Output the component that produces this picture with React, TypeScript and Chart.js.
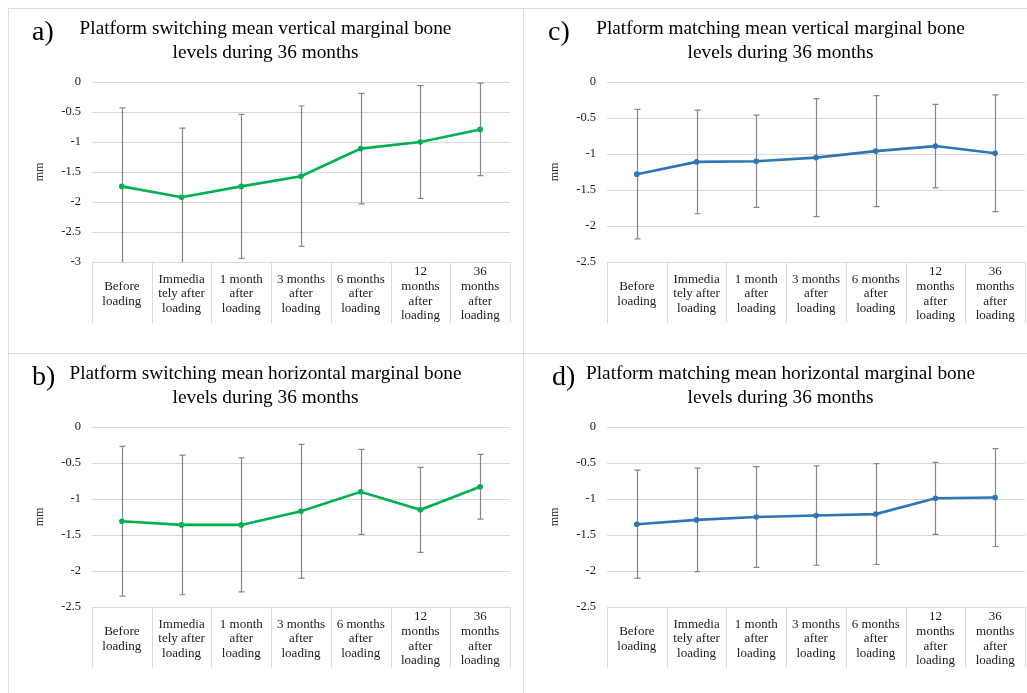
import React, { useEffect, useRef } from "react";
import { Chart, registerables } from "chart.js";

Chart.register(...registerables);

const categories: string[][] = [
  ["Before", "loading"],
  ["Immedia", "tely after", "loading"],
  ["1 month", "after", "loading"],
  ["3 months", "after", "loading"],
  ["6 months", "after", "loading"],
  ["12", "months", "after", "loading"],
  ["36", "months", "after", "loading"],
];

// a) Platform switching, vertical
const aMean = [-1.74, -1.92, -1.74, -1.57, -1.11, -1.0, -0.79];
const aSD = [1.31, 1.15, 1.2, 1.17, 0.92, 0.94, 0.77];
// c) Platform matching, vertical
const cMean = [-1.28, -1.11, -1.1, -1.05, -0.96, -0.89, -0.99];
const cSD = [0.9, 0.72, 0.64, 0.82, 0.77, 0.58, 0.81];
// b) Platform switching, horizontal
const bMean = [-1.31, -1.36, -1.36, -1.17, -0.9, -1.15, -0.83];
const bSD = [1.04, 0.97, 0.93, 0.93, 0.59, 0.59, 0.45];
// d) Platform matching, horizontal
const dMean = [-1.35, -1.29, -1.25, -1.23, -1.21, -0.99, -0.98];
const dSD = [0.75, 0.72, 0.7, 0.69, 0.7, 0.5, 0.68];

const yTicksA = { min: -3, max: 0, step: 0.5 };
const yTicksOther = { min: -2.5, max: 0, step: 0.5 };

const GREEN = "#00b050";
const BLUE = "#2e75b6";
const GRID = "#d9d9d9";
const SERIF = "'Liberation Serif', 'Times New Roman', serif";

const errorBarPlugin = {
  id: "errorBars",
  beforeDatasetsDraw(chart: any) {
    const { ctx, chartArea } = chart;
    const xs = chart.scales.x;
    const ys = chart.scales.y;
    const ds = chart.data.datasets[0];
    const sd: number[] = ds.errors;
    ctx.save();
    ctx.beginPath();
    ctx.rect(chartArea.left, chartArea.top - 6, chartArea.right - chartArea.left, chartArea.bottom - chartArea.top + 6);
    ctx.clip();
    ctx.strokeStyle = "#878787";
    ctx.lineWidth = 1.2;
    (ds.data as number[]).forEach((v, i) => {
      const px = Math.round(xs.getPixelForValue(i)) + 0.5;
      const top = ys.getPixelForValue(v + sd[i]);
      const bot = ys.getPixelForValue(v - sd[i]);
      ctx.beginPath();
      ctx.moveTo(px, top);
      ctx.lineTo(px, bot);
      ctx.moveTo(px - 3, top);
      ctx.lineTo(px + 3, top);
      ctx.moveTo(px - 3, bot);
      ctx.lineTo(px + 3, bot);
      ctx.stroke();
    });
    ctx.restore();
  },
};

const separatorPlugin = {
  id: "catSeparators",
  afterDraw(chart: any) {
    const { ctx, chartArea } = chart;
    const xs = chart.scales.x;
    const n = chart.data.labels.length;
    ctx.save();
    ctx.strokeStyle = GRID;
    ctx.lineWidth = 1;
    for (let i = 0; i <= n; i++) {
      const px = Math.round(xs.getPixelForValue(i - 0.5)) + 0.5;
      ctx.beginPath();
      ctx.moveTo(px, chartArea.bottom);
      ctx.lineTo(px, chartArea.bottom + 61);
      ctx.stroke();
    }
    ctx.restore();
  },
};

type PanelProps = {
  letter: string;
  line1: string;
  line2: string;
  mean: number[];
  sd: number[];
  color: string;
  yr: { min: number; max: number; step: number };
  left: number;
  top: number;
  letterLeft: number;
};

const W = 515;
const H = 345;

function Panel(p: PanelProps) {
  const ref = useRef<HTMLCanvasElement>(null);
  useEffect(() => {
    if (!ref.current) return;
    const chart = new Chart(ref.current, {
      type: "line",
      data: {
        labels: categories,
        datasets: [
          {
            data: p.mean,
            errors: p.sd,
            borderColor: p.color,
            backgroundColor: p.color,
            borderWidth: 2.6,
            pointRadius: 2.8,
            pointBorderWidth: 0,
            pointBackgroundColor: p.color,
            tension: 0,
          } as any,
        ],
      },
      options: {
        responsive: false,
        animation: false,
        layout: { padding: { left: 0, top: 74, right: 13, bottom: 0 } },
        plugins: { legend: { display: false }, tooltip: { enabled: false }, title: { display: false } },
        scales: {
          x: {
            type: "category",
            offset: true,
            grid: { display: false },
            border: { display: false },
            afterFit: (s: any) => {
              s.height = 91;
            },
            ticks: {
              autoSkip: false,
              maxRotation: 0,
              minRotation: 0,
              padding: 2,
              color: "#1a1a1a",
              crossAlign: "center",
              font: { family: SERIF, size: 13, lineHeight: 1.13 },
            },
          },
          y: {
            min: p.yr.min,
            max: p.yr.max,
            grid: { color: GRID, drawTicks: false, lineWidth: 1 },
            border: { display: false },
            afterFit: (s: any) => {
              s.width = 84;
            },
            ticks: {
              stepSize: p.yr.step,
              padding: 11,
              color: "#1a1a1a",
              font: { family: SERIF, size: 12.5 },
              callback: (v: any) => String(Number(v)),
            },
            title: {
              display: true,
              text: "mm",
              color: "#333",
              padding: { top: 25, bottom: 0 },
              font: { family: SERIF, size: 12 },
            },
          },
        },
      } as any,
      plugins: [errorBarPlugin, separatorPlugin],
    });
    return () => chart.destroy();
  }, []);

  return (
    <div style={{ position: "absolute", left: p.left, top: p.top, width: W, height: H }}>
      <canvas ref={ref} width={W} height={H} style={{ position: "absolute", left: 0, top: 0, width: W, height: H }} />
      <div
        style={{
          position: "absolute",
          left: p.letterLeft,
          top: 9,
          fontFamily: SERIF,
          fontSize: 28,
          lineHeight: "28px",
          color: "#000",
        }}
      >
        {p.letter}
      </div>
      <div
        style={{
          position: "absolute",
          left: 0,
          top: 8,
          width: W,
          textAlign: "center",
          fontFamily: SERIF,
          fontSize: 19.3,
          lineHeight: "24px",
          color: "#000",
        }}
      >
        {p.line1}
        <br />
        {p.line2}
      </div>
    </div>
  );
}

export default function App() {
  const line = (s: React.CSSProperties) => <div style={{ position: "absolute", background: "#dedede", ...s }} />;
  return (
    <div
      style={{
        position: "fixed",
        left: 0,
        top: 0,
        width: 1027,
        height: 693,
        overflow: "hidden",
        background: "#fff",
      }}
    >
      <Panel
        letter="a)"
        line1="Platform switching mean vertical marginal bone"
        line2="levels during 36 months"
        mean={aMean}
        sd={aSD}
        color={GREEN}
        yr={yTicksA}
        left={8}
        top={8}
        letterLeft={24}
      />
      <Panel
        letter="c)"
        line1="Platform matching mean vertical marginal bone"
        line2="levels during 36 months"
        mean={cMean}
        sd={cSD}
        color={BLUE}
        yr={yTicksOther}
        left={523}
        top={8}
        letterLeft={25}
      />
      <Panel
        letter="b)"
        line1="Platform switching mean horizontal marginal bone"
        line2="levels during 36 months"
        mean={bMean}
        sd={bSD}
        color={GREEN}
        yr={yTicksOther}
        left={8}
        top={353}
        letterLeft={24}
      />
      <Panel
        letter="d)"
        line1="Platform matching mean horizontal marginal bone"
        line2="levels during 36 months"
        mean={dMean}
        sd={dSD}
        color={BLUE}
        yr={yTicksOther}
        left={523}
        top={353}
        letterLeft={29}
      />
      {line({ left: 8, top: 8, width: 1019, height: 1 })}
      {line({ left: 8, top: 353, width: 1019, height: 1 })}
      {line({ left: 8, top: 8, width: 1, height: 685 })}
      {line({ left: 523, top: 8, width: 1, height: 685 })}
    </div>
  );
}
